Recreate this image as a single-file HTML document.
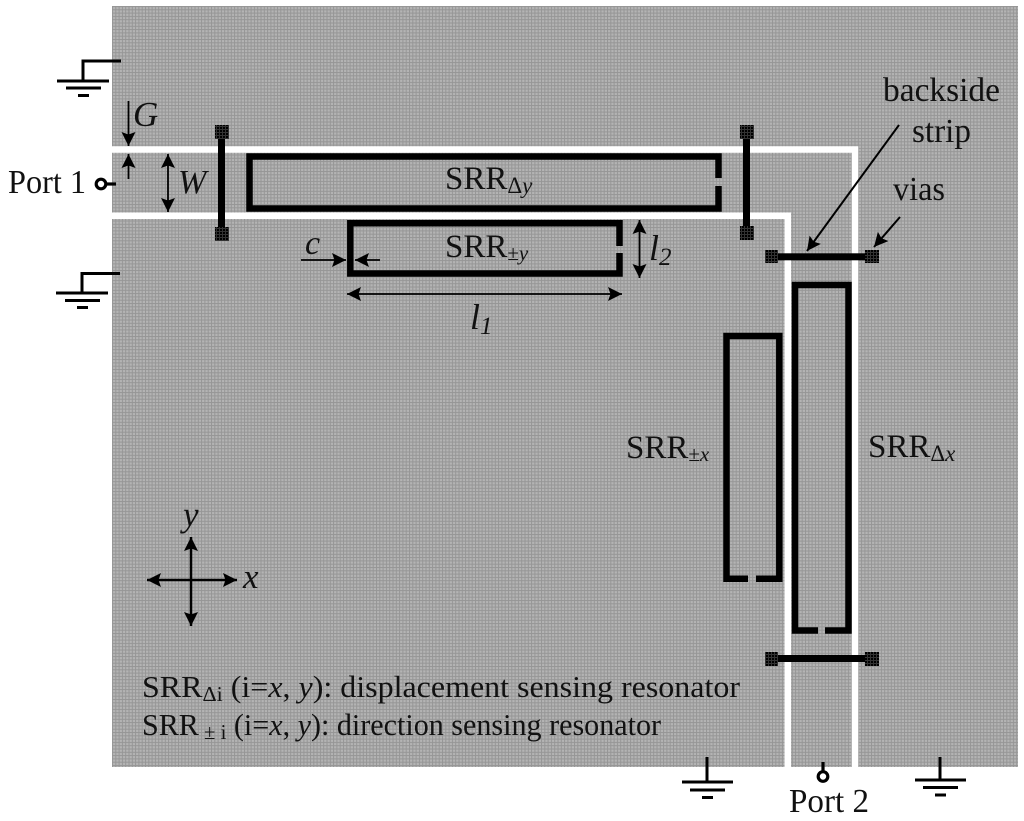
<!DOCTYPE html>
<html><head><meta charset="utf-8"><style>
html,body{margin:0;padding:0;background:#fff}
svg{display:block}
text{font-family:"Liberation Serif",serif;fill:#111}
.i{font-style:italic}
</style></head><body>
<svg width="1024" height="821" viewBox="0 0 1024 821" xmlns="http://www.w3.org/2000/svg">
<defs>
<pattern id="g" width="3.3" height="3.3" patternUnits="userSpaceOnUse" x="112" y="6">
<rect width="3.3" height="3.3" fill="#b4b4b4"/>
<rect width="1" height="3.3" fill="#969696"/>
<rect width="3.3" height="1" fill="#969696"/>
</pattern>
<pattern id="v" width="3" height="3" patternUnits="userSpaceOnUse">
<rect width="3" height="3" fill="#000"/>
<rect width="1" height="3" fill="#333"/>
<rect width="3" height="1" fill="#333"/>
</pattern>
<marker id="a" viewBox="0 0 14 14" refX="14" refY="7" markerWidth="14" markerHeight="14" markerUnits="userSpaceOnUse" orient="auto-start-reverse"><path d="M0 0L14 7L0 14L2.500 7Z" fill="#000"/></marker>
</defs>
<rect x="112" y="6" width="906" height="761" fill="url(#g)"/>
<!-- CPW slots -->
<path d="M112 149.5H855V767" fill="none" stroke="#fff" stroke-width="6.5"/>
<path d="M112 215.8H787.8V767" fill="none" stroke="#fff" stroke-width="6.5"/>

<!-- resonators -->
<g fill="none" stroke="#000" stroke-width="6.5">
<path d="M718.5 178V156.5H249.5V208.5H718.5V186"/>
<path d="M619.5 246V223.3H350.3V273.5H619.5V253"/>
<path d="M818 630.5H795V285H848.5V630.5H825"/>
<path d="M748 578.8H726.5V336H779.3V578.8H756"/>
</g>
<!-- strips -->
<g fill="#000">
<rect x="218" y="135" width="7" height="96"/>
<rect x="743" y="135" width="7" height="96"/>
<rect x="773" y="253.3" width="96" height="7"/>
<rect x="773" y="655" width="96" height="7"/>
</g>
<g fill="url(#v)">
<rect x="215" y="125" width="14" height="14"/>
<rect x="215" y="227" width="14" height="14"/>
<rect x="740" y="125" width="14" height="14"/>
<rect x="740" y="226" width="14" height="14"/>
<rect x="765" y="250" width="13" height="13"/>
<rect x="865" y="250" width="14" height="13"/>
<rect x="765" y="652" width="13" height="14"/>
<rect x="865" y="652" width="14" height="14"/>
</g>

<!-- ground symbols -->
<g fill="none" stroke="#000" stroke-width="3">
<path d="M121 61H83V81"/><path d="M57 81H109" /><path d="M66 88H101"/><path d="M78 95.500H89"/>
<path d="M120 273.500H82V293"/><path d="M56 293H108"/><path d="M65 300.500H100"/><path d="M77 307.500H88"/>
<path d="M707 757V782"/><path d="M682 782H733"/><path d="M690 790H725"/><path d="M702 797.500H713"/>
<path d="M940 757V780"/><path d="M915 780H966"/><path d="M923 787.500H958"/><path d="M935 795H946"/>
</g>
<!-- ports -->
<g fill="none" stroke="#000" stroke-width="3.2">
<circle cx="101" cy="184" r="4.800"/><path d="M106 184H116"/>
<circle cx="823" cy="776.500" r="4.800"/><path d="M823 762V771"/>
</g>

<!-- dimension arrows -->
<g fill="none" stroke="#000" stroke-width="1.800" marker-end="url(#a)">
<path d="M128.500 101V146"/>
<path d="M128.500 179V154"/>
<path d="M168 154V212" marker-start="url(#a)"/>
<path d="M301 260H346"/>
<path d="M380 260H355"/>
<path d="M347 294H622" marker-start="url(#a)"/>
<path d="M639.500 220V278" marker-start="url(#a)"/>
<path d="M899 125L807 251" stroke-width="2"/>
<path d="M900 217L874 247" stroke-width="2"/>
<path d="M191 537V626" stroke-width="2.500" marker-start="url(#a)"/>
<path d="M147 580H237" stroke-width="2.500" marker-start="url(#a)"/>
</g>

<!-- labels -->
<text x="8" y="193" font-size="34" textLength="78" lengthAdjust="spacingAndGlyphs">Port 1</text>
<text x="133" y="126" font-size="35" class="i">G</text>
<text x="178" y="193" font-size="34" class="i">W</text>
<text x="305" y="254" font-size="34" class="i">c</text>
<text x="470" y="329" font-size="36" class="i">l<tspan font-size="25" dy="5">1</tspan></text>
<text x="649" y="260" font-size="36" class="i">l<tspan font-size="25" dy="5">2</tspan></text>
<text x="445" y="189" font-size="33">SRR<tspan font-size="23" dy="4">Δ<tspan class="i">y</tspan></tspan></text>
<text x="445" y="257" font-size="33">SRR<tspan font-size="21" dy="3">±<tspan class="i">y</tspan></tspan></text>
<text x="626" y="458" font-size="33">SRR<tspan font-size="21" dy="3">±<tspan class="i">x</tspan></tspan></text>
<text x="868" y="457" font-size="33">SRR<tspan font-size="23" dy="4">Δ<tspan class="i">x</tspan></tspan></text>
<text x="883" y="101" font-size="34" textLength="117" lengthAdjust="spacingAndGlyphs">backside</text>
<text x="912" y="142" font-size="34" textLength="59" lengthAdjust="spacingAndGlyphs">strip</text>
<text x="893" y="200" font-size="34" textLength="52" lengthAdjust="spacingAndGlyphs">vias</text>
<text x="789" y="812" font-size="34" textLength="80" lengthAdjust="spacingAndGlyphs">Port 2</text>
<text x="183" y="526" font-size="35" class="i">y</text>
<text x="243" y="588" font-size="35" class="i">x</text>
<text x="142" y="697" font-size="30.5" textLength="598" lengthAdjust="spacingAndGlyphs">SRR<tspan font-size="21" dy="4">Δi</tspan><tspan dy="-4"> (i=</tspan><tspan class="i">x</tspan>, <tspan class="i">y</tspan>): displacement sensing resonator</text>
<text x="142" y="735" font-size="30.5" textLength="519" lengthAdjust="spacingAndGlyphs">SRR<tspan font-size="21" dy="4"> ± i</tspan><tspan dy="-4"> (i=</tspan><tspan class="i">x</tspan>, <tspan class="i">y</tspan>): direction sensing resonator</text>
</svg>
</body></html>
